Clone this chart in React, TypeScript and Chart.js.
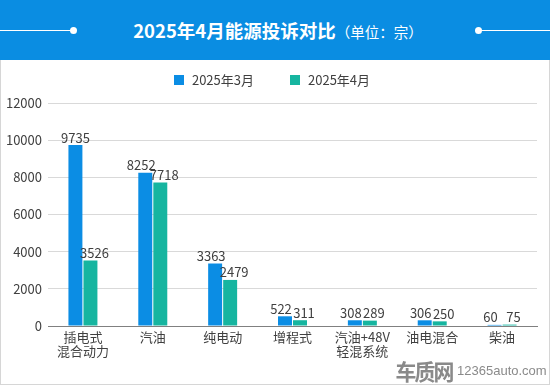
import React, { useEffect, useRef } from "react";
import { Chart, registerables } from "chart.js";

Chart.register(...registerables);

const categories: string[][] = [
  ["插电式", "混合动力"],
  ["汽油"],
  ["纯电动"],
  ["增程式"],
  ["汽油+48V", "轻混系统"],
  ["油电混合"],
  ["柴油"],
];
const march: number[] = [9735, 8252, 3363, 522, 308, 306, 60];
const april: number[] = [3526, 7718, 2479, 311, 289, 250, 75];
const seriesNames = ["2025年3月", "2025年4月"];
const yTicks = [0, 2000, 4000, 6000, 8000, 10000, 12000];

const BLUE = "#0b8de4";
const TEAL = "#16b5a0";
const FONT = '"Microsoft YaHei", "Noto Sans CJK SC", sans-serif';

const valueLabels = {
  id: "valueLabels",
  afterDatasetsDraw(chart: any) {
    const ctx = chart.ctx;
    ctx.save();
    ctx.font = `13px ${FONT}`;
    ctx.fillStyle = "#404040";
    ctx.textAlign = "center";
    ctx.textBaseline = "bottom";
    const m0 = chart.getDatasetMeta(0).data;
    const m1 = chart.getDatasetMeta(1).data;
    chart.data.datasets.forEach((ds: any, di: number) => {
      const meta = chart.getDatasetMeta(di);
      meta.data.forEach((bar: any, i: number) => {
        const close = Math.abs(m0[i].y - m1[i].y) < 25;
        const shift = di === 0 ? (close ? -4 : 0) : 4;
        ctx.fillText(String(ds.data[i]), bar.x + shift, bar.y - 1);
      });
    });
    ctx.restore();
  },
};

export default function App() {
  const ref = useRef<HTMLCanvasElement>(null);
  useEffect(() => {
    document.body.style.margin = "0";
    const chart = new Chart(ref.current!, {
      type: "bar",
      data: {
        labels: categories,
        datasets: [
          { label: seriesNames[0], data: march, backgroundColor: BLUE, categoryPercentage: 0.43, barPercentage: 0.93 },
          { label: seriesNames[1], data: april, backgroundColor: TEAL, categoryPercentage: 0.43, barPercentage: 0.93 },
        ],
      },
      options: {
        animation: false,
        responsive: false,
        maintainAspectRatio: false,
        layout: { padding: { top: 43, right: 13, left: 0, bottom: 0 } },
        plugins: { legend: { display: false }, tooltip: { enabled: false } },
        scales: {
          x: {
            grid: { display: false, drawTicks: false },
            border: { color: "#808080", width: 1 },
            ticks: {
              color: "#404040",
              font: { size: 13, family: FONT, lineHeight: 1.1 },
              padding: 4,
              maxRotation: 0,
              autoSkip: false,
            },
            afterFit: (s: any) => {
              s.height = 60;
            },
          },
          y: {
            min: 0,
            max: 12000,
            afterBuildTicks: (s: any) => {
              s.ticks = yTicks.map((v) => ({ value: v }));
            },
            grid: { color: "#d9d9d9", drawTicks: false },
            border: { display: false },
            ticks: {
              color: "#404040",
              font: { size: 13, family: FONT },
              padding: 6,
              callback: (v: any) => String(v),
            },
            afterFit: (s: any) => {
              s.width = 48;
            },
          },
        },
      },
      plugins: [valueLabels],
    });
    return () => chart.destroy();
  }, []);

  return (
    <div style={{ position: "relative", width: 550, height: 386, fontFamily: FONT, overflow: "hidden" }}>
      <div style={{ position: "absolute", left: 0, top: 0, width: 550, height: 60, background: "#0a8de2" }}>
        <div style={{ position: "absolute", left: 0, top: 30, width: 73, height: 1, background: "#fff" }} />
        <div style={{ position: "absolute", left: 70, top: 27, width: 7, height: 7, borderRadius: 4, background: "#fff" }} />
        <div style={{ position: "absolute", left: 478, top: 30, width: 72, height: 1, background: "#fff" }} />
        <div style={{ position: "absolute", left: 475, top: 27, width: 7, height: 7, borderRadius: 4, background: "#fff" }} />
        <div style={{ position: "absolute", left: 0, width: 556, top: 17, textAlign: "center", color: "#fff", whiteSpace: "nowrap", lineHeight: "26px" }}>
          <span style={{ fontSize: 18.5, fontWeight: "bold" }}>2025年4月能源投诉对比</span>
          <span style={{ fontSize: 14.5 }}>（单位：宗）</span>
        </div>
      </div>
      <div style={{ position: "absolute", left: 0, top: 60, width: 548, height: 324, border: "1px solid #d6d6d6", borderTop: "none" }} />
      <canvas ref={ref} width={550} height={326} style={{ position: "absolute", left: 0, top: 60 }} />
      <div style={{ position: "absolute", top: 72, left: -3, width: 550, display: "flex", justifyContent: "center", fontSize: 13, color: "#404040", lineHeight: "16px" }}>
        <div style={{ display: "flex", alignItems: "center" }}>
          <span style={{ width: 10, height: 10, background: BLUE, display: "inline-block", marginRight: 8 }} />
          <span>{seriesNames[0]}</span>
        </div>
        <div style={{ display: "flex", alignItems: "center", marginLeft: 36 }}>
          <span style={{ width: 10, height: 10, background: TEAL, display: "inline-block", marginRight: 8 }} />
          <span>{seriesNames[1]}</span>
        </div>
      </div>
      <div style={{ position: "absolute", left: 394, top: 358, display: "flex", alignItems: "center", color: "#8a8a8a" }}>
        <span style={{ fontSize: 22, fontWeight: "bold", letterSpacing: -2, lineHeight: "24px", transform: "scaleX(0.95)" }}>车质网</span>
        <span style={{ fontSize: 13, marginLeft: 3, fontFamily: "Arial, 'Liberation Sans', sans-serif" }}>12365auto.com</span>
      </div>
    </div>
  );
}
